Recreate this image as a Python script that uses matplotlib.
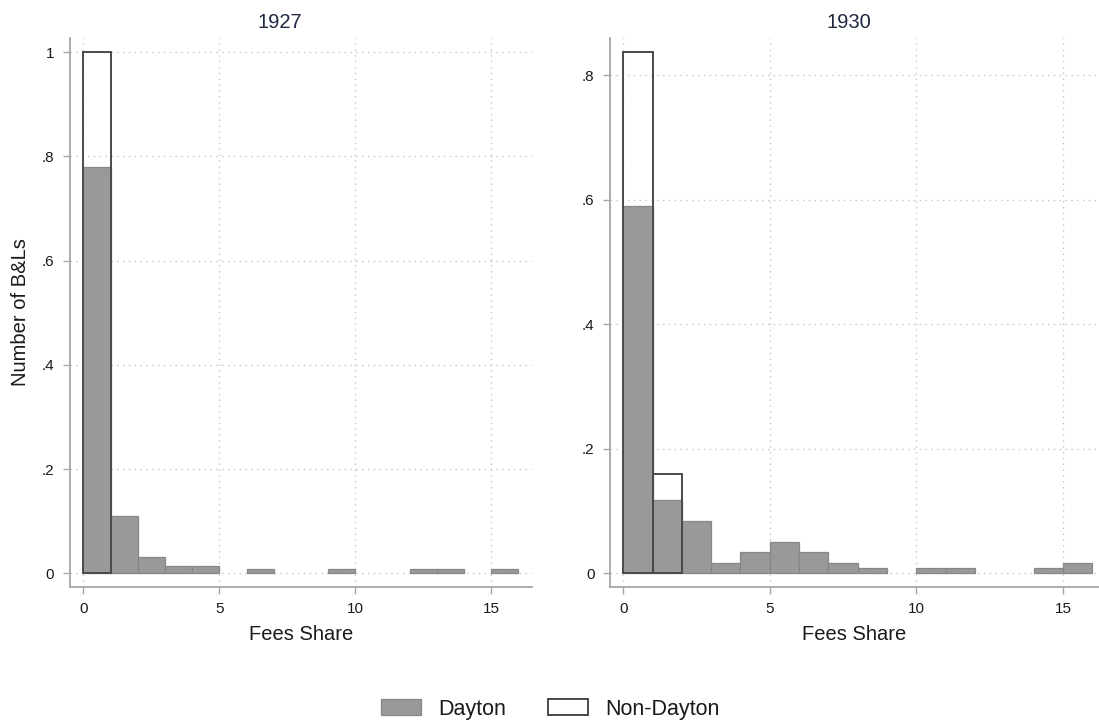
import numpy as np
import matplotlib
matplotlib.use("Agg")
import matplotlib.pyplot as plt
from matplotlib.patches import Patch
from matplotlib.ticker import FuncFormatter

plt.rcParams["font.family"] = ["Liberation Sans", "DejaVu Sans"]

# Histogram bins of the fees share (width 1, from 0 to 16)
bin_edges = list(range(0, 17))

# Share of B&Ls per bin, 1927
dayton_1927 = [0.78, 0.11, 0.032, 0.015, 0.015, 0, 0.0077, 0, 0, 0.0077,
               0, 0, 0.0077, 0.0077, 0, 0.0077]
non_dayton_1927 = [1.0, 0, 0, 0, 0, 0, 0, 0, 0, 0, 0, 0, 0, 0, 0, 0]

# Share of B&Ls per bin, 1930
dayton_1930 = [0.59, 0.118, 0.085, 0.017, 0.034, 0.051, 0.034, 0.017, 0.0085, 0,
               0.0085, 0.0085, 0, 0, 0.0085, 0.017]
non_dayton_1930 = [0.838, 0.16, 0, 0, 0, 0, 0, 0, 0, 0, 0, 0, 0, 0, 0, 0]

panel_titles = ["1927", "1930"]
x_ticks = [0, 5, 10, 15]
y_ticks_1927 = [0, 0.2, 0.4, 0.6, 0.8, 1.0]
y_ticks_1930 = [0, 0.2, 0.4, 0.6, 0.8]
x_label = "Fees Share"
y_label = "Number of B&Ls"
legend_labels = ["Dayton", "Non-Dayton"]

DAYTON_FACE = "#999999"
DAYTON_EDGE = "#878787"
NON_EDGE = "#4a4a4a"
AXIS_GRAY = "#a6a6a6"
GRID_GRAY = "#c4c4c4"
TEXT = "#1a1a1a"

W, H = 1099, 725
fig = plt.figure(figsize=(W / 100, H / 100), dpi=100)
fig.patch.set_facecolor("white")


def px_axes(left, right, top, bottom):
    return fig.add_axes([left / W, 1 - bottom / H, (right - left) / W, (bottom - top) / H])


def stata_fmt(v, _pos):
    if abs(v) < 1e-9:
        return "0"
    if abs(v - round(v)) < 1e-9:
        return f"{int(round(v))}"
    return f"{v:.1f}".lstrip("0")


def draw_panel(ax, dayton, non_dayton, yticks, xlim, ylim):
    left_edges = np.array(bin_edges[:-1])
    d = np.array(dayton)
    n = np.array(non_dayton)
    md = d > 0
    mn = n > 0
    ax.bar(left_edges[md], d[md], width=1.0, align="edge", color=DAYTON_FACE,
           edgecolor=DAYTON_EDGE, linewidth=0.9, zorder=2)
    ax.bar(left_edges[mn], n[mn], width=1.0, align="edge", fill=False,
           edgecolor=NON_EDGE, linewidth=1.4, zorder=3)
    ax.set_xlim(*xlim)
    ax.set_ylim(*ylim)
    ax.set_xticks(x_ticks)
    ax.set_yticks(yticks)
    ax.yaxis.set_major_formatter(FuncFormatter(stata_fmt))
    ax.grid(True, color=GRID_GRAY, linestyle=(0, (1, 3.2)), linewidth=1.0, zorder=0)
    ax.set_axisbelow(True)
    for s in ("top", "right"):
        ax.spines[s].set_visible(False)
    for s in ("left", "bottom"):
        ax.spines[s].set_color(AXIS_GRAY)
        ax.spines[s].set_linewidth(1.3)
    ax.tick_params(axis="both", direction="out", length=5, width=1.0,
                   color=AXIS_GRAY, labelsize=11, labelcolor=TEXT, pad=6)
    ax.set_xlabel(x_label, fontsize=14.5, color=TEXT, va="center")
    ax.xaxis.set_label_coords(0.5, -(634 - 587) / 549)


ax1 = px_axes(69.5, 532, 38, 587)
draw_panel(ax1, dayton_1927, non_dayton_1927, y_ticks_1927,
           (-0.51, 16.5), (-0.026, 1.027))
ax1.set_ylabel(y_label, fontsize=14.5, color=TEXT, va="center")
ax1.yaxis.set_label_coords((21 - 69.5) / 462.5, (587 - 312) / 549)

ax2 = px_axes(610, 1099, 38, 587)
draw_panel(ax2, dayton_1930, non_dayton_1930, y_ticks_1930,
           (-0.45, 16.23), (-0.0217, 0.86))

fig.text(280 / W, 1 - 23 / H, panel_titles[0], ha="center", va="center",
         fontsize=14.5, color="#1e2840")
fig.text(849 / W, 1 - 23 / H, panel_titles[1], ha="center", va="center",
         fontsize=14.5, color="#1e2840")

handles = [Patch(facecolor=DAYTON_FACE, edgecolor=DAYTON_EDGE, linewidth=0.9),
           Patch(facecolor="white", edgecolor=NON_EDGE, linewidth=1.4)]
fig.legend(handles, legend_labels, loc="center", bbox_to_anchor=(550 / W, 1 - 709 / H),
           ncol=2, frameon=False, fontsize=15.5, handlelength=1.86, handleheight=0.75,
           handletextpad=0.8, columnspacing=1.95, labelcolor=TEXT)

fig.savefig("out.png", dpi=100, facecolor="white")
